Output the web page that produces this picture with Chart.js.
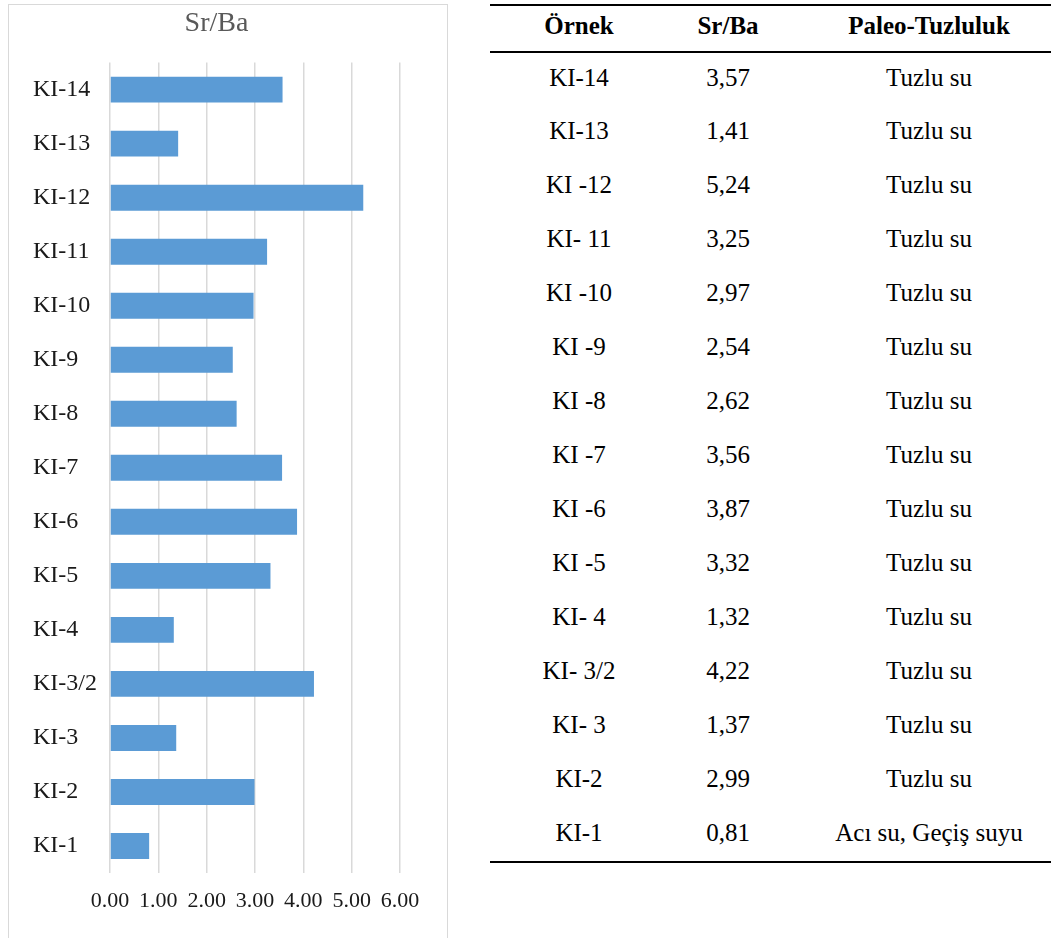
<!DOCTYPE html>
<html lang="tr">
<head>
<meta charset="utf-8">
<title>Sr/Ba</title>
<script src="https://cdn.jsdelivr.net/npm/chart.js@4/dist/chart.umd.min.js"></script>
<style>
    html, body { margin: 0; padding: 0; background: #fff; overflow: hidden; }
    body { width: 1051px; height: 938px; position: relative; }
    #panel {
        position: absolute; left: 8px; top: 4px; width: 438px; height: 940px;
        border: 1px solid #d9d9d9;
    }
    #panel canvas { display: block; }
    #tablo {
        position: absolute; left: 490px; top: 4px; width: 580px;
        border-collapse: collapse; color: #000;
    }
    #tablo th, #tablo td {
        text-align: center; padding: 0;
        font-family: "Liberation Serif", serif; font-size: 25px;
    }
    #tablo thead tr { border-top: 2px solid #000; border-bottom: 2px solid #000; }
    #tablo th { height: 47px; font-weight: bold; padding-bottom: 5px; box-sizing: border-box; }
    #tablo td { height: 54px; padding-bottom: 4px; box-sizing: border-box; }
    #tablo tbody tr:last-child { border-bottom: 2px solid #000; }
</style>
</head>
<body>
<div id="panel"><canvas id="srbaChart" width="438" height="934"></canvas></div>
<table id="tablo">
    <colgroup><col style="width:178px"><col style="width:120px"><col style="width:282px"></colgroup>
    <thead><tr><th>Örnek</th><th>Sr/Ba</th><th>Paleo-Tuzluluk</th></tr></thead>
    <tbody></tbody>
</table>
<script>
// örnek adları (grafik ekseni) ve tablodaki yazılışları
const ornekler = ['KI-14', 'KI-13', 'KI-12', 'KI-11', 'KI-10', 'KI-9', 'KI-8', 'KI-7',
    'KI-6', 'KI-5', 'KI-4', 'KI-3/2', 'KI-3', 'KI-2', 'KI-1'];
const tabloOrnekler = ['KI-14', 'KI-13', 'KI -12', 'KI- 11', 'KI -10', 'KI -9', 'KI -8', 'KI -7',
    'KI -6', 'KI -5', 'KI- 4', 'KI- 3/2', 'KI- 3', 'KI-2', 'KI-1'];
const srBa = [3.57, 1.41, 5.24, 3.25, 2.97, 2.54, 2.62, 3.56, 3.87, 3.32, 1.32, 4.22, 1.37, 2.99, 0.81];
const tuzluluk = ['Tuzlu su', 'Tuzlu su', 'Tuzlu su', 'Tuzlu su', 'Tuzlu su', 'Tuzlu su', 'Tuzlu su',
    'Tuzlu su', 'Tuzlu su', 'Tuzlu su', 'Tuzlu su', 'Tuzlu su', 'Tuzlu su', 'Tuzlu su', 'Acı su, Geçiş suyu'];

function fillTable() {
    const tbody = document.querySelector('#tablo tbody');
    ornekler.forEach((_, i) => {
        const tr = document.createElement('tr');
        [tabloOrnekler[i], srBa[i].toFixed(2).replace('.', ','), tuzluluk[i]].forEach(txt => {
            const td = document.createElement('td');
            td.textContent = txt;
            tr.appendChild(td);
        });
        tbody.appendChild(tr);
    });
}

function createChart() {
    const ctx = document.getElementById('srbaChart').getContext('2d');
    return new Chart(ctx, {
        type: 'bar',
        data: {
            labels: ornekler,
            datasets: [{
                label: 'Sr/Ba',
                data: srBa,
                backgroundColor: '#5b9bd5',
                borderWidth: 0,
                categoryPercentage: 1,
                barPercentage: 0.48
            }]
        },
        options: {
            indexAxis: 'y',
            responsive: false,
            animation: false,
            devicePixelRatio: 1,
            layout: { padding: { left: 24, right: 47, top: 0, bottom: 10 } },
            plugins: {
                legend: { display: false },
                tooltip: { enabled: false },
                title: {
                    display: true,
                    text: 'Sr/Ba',
                    color: '#595959',
                    font: { family: 'Liberation Serif', size: 28, weight: 'normal' },
                    padding: { top: 2, bottom: 22 }
                }
            },
            scales: {
                x: {
                    min: 0,
                    max: 6,
                    ticks: {
                        stepSize: 1,
                        padding: 15,
                        color: '#1a1a1a',
                        font: { family: 'Liberation Serif', size: 22 },
                        callback: v => v.toFixed(2)
                    },
                    grid: { color: '#d9d9d9', lineWidth: 1.5, drawTicks: false },
                    border: { display: false },
                    afterFit: s => { s.height = 56; }
                },
                y: {
                    ticks: {
                        crossAlign: 'far',
                        color: '#1a1a1a',
                        font: { family: 'Liberation Serif', size: 24 }
                    },
                    grid: { display: false, drawTicks: false },
                    border: { display: false },
                    afterFit: s => { s.width = 77; }
                }
            }
        }
    });
}

document.addEventListener('DOMContentLoaded', function() {
    fillTable();
    createChart();
});
</script>
</body>
</html>
